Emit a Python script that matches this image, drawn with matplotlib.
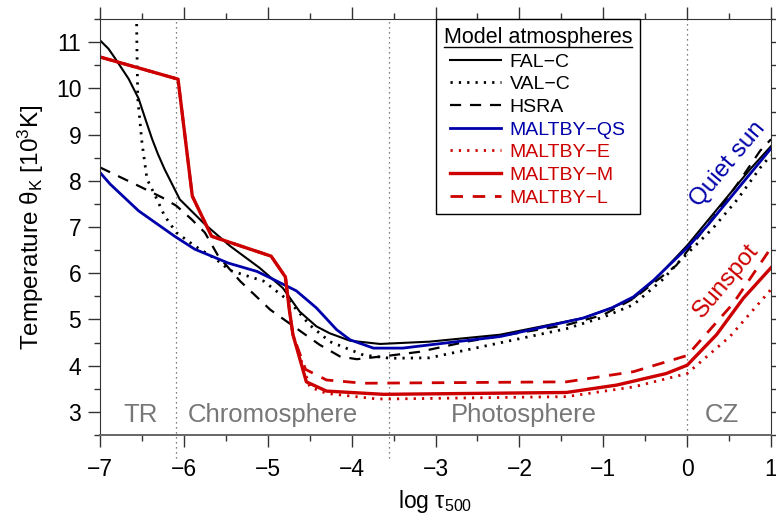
import matplotlib
matplotlib.use("Agg")
import matplotlib.pyplot as plt
from matplotlib.lines import Line2D
from matplotlib.ticker import MultipleLocator

plt.rcParams['font.family'] = ['Liberation Sans', 'DejaVu Sans']
plt.rcParams['mathtext.fontset'] = 'custom'
plt.rcParams['mathtext.rm'] = 'Liberation Sans'
plt.rcParams['mathtext.it'] = 'Liberation Sans:italic'
plt.rcParams['mathtext.bf'] = 'Liberation Sans:bold'

RED = '#cc0000'
BLUE = '#0000aa'

# --- data (log tau_500 vs T in 10^3 K) ---
falc_x = [-7.0, -6.90, -6.82, -6.74, -6.66, -6.54, -6.46, -6.38, -6.31, -6.23, -6.13, -6.05,
          -5.75, -5.45, -5.1, -4.82, -4.62, -4.42, -4.26, -4.02, -3.66, -3.07, -2.23, -1.24,
          -0.9, -0.64, -0.4, -0.25, 0.0, 0.25, 0.5, 0.75, 1.0]
falc_y = [11.04, 10.86, 10.65, 10.43, 10.21, 9.78, 9.34, 8.91, 8.58, 8.25, 7.89, 7.6,
          7.06, 6.59, 6.12, 5.68, 5.17, 4.85, 4.70, 4.54, 4.47, 4.52, 4.67, 5.03,
          5.25, 5.46, 5.83, 6.12, 6.6, 7.15, 7.7, 8.25, 8.75]

valc_x = [-6.57, -6.56, -6.55, -6.5, -6.44, -6.34, -6.23, -6.09, -5.87, -5.63, -5.45, -5.05,
          -4.74, -4.5, -4.26, -3.86, -3.54, -3.07, -2.63, -1.44, -1.0, -0.64, -0.3, -0.09,
          0.31, 0.6, 0.89, 1.0]
valc_y = [12.5, 10.86, 9.78, 8.83, 8.04, 7.67, 7.24, 6.88, 6.59, 6.32, 6.06, 5.83,
          5.39, 4.88, 4.52, 4.23, 4.16, 4.17, 4.34, 4.80, 5.05, 5.32, 5.85, 6.26,
          6.98, 7.6, 8.33, 8.55]

hsra_x = [-7.0, -6.54, -6.26, -6.09, -5.91, -5.75, -5.59, -5.33, -4.97, -4.66, -4.38, -4.14,
          -3.94, -3.54, -3.19, -2.63, -1.44, -1.0, -0.64, -0.13, 0.35, 0.61, 0.87, 1.0]
hsra_y = [8.29, 7.89, 7.64, 7.46, 7.17, 6.88, 6.37, 5.83, 5.21, 4.81, 4.45, 4.2,
          4.14, 4.22, 4.30, 4.52, 4.88, 5.1, 5.45, 6.17, 7.3, 7.96, 8.65, 8.9]

qs_x = [-7.0, -6.88, -6.54, -6.11, -5.87, -5.47, -5.13, -4.97, -4.66, -4.42, -4.18, -4.02,
        -3.74, -3.39, -3.07, -2.23, -1.24, -0.9, -0.64, -0.4, -0.2, 0.0, 0.25, 0.5, 0.75, 1.0]
qs_y = [8.18, 7.93, 7.35, 6.8, 6.52, 6.22, 6.04, 5.9, 5.62, 5.25, 4.78, 4.56,
        4.38, 4.38, 4.45, 4.63, 5.03, 5.25, 5.49, 5.85, 6.2, 6.55, 7.05, 7.6, 8.15, 8.7]

# sunspot models share the upper atmosphere
spot_top_x = [-7.0, -6.07, -5.9, -5.67, -4.96, -4.79, -4.74, -4.70]
spot_top_y = [10.68, 10.2, 7.67, 6.8, 6.37, 5.92, 5.17, 4.67]

maltm_x = [-4.54, -4.30, -3.62, -1.44, -0.84, -0.25, 0.0, 0.35, 0.67, 1.0]
maltm_y = [3.65, 3.45, 3.38, 3.42, 3.58, 3.83, 4.01, 4.67, 5.46, 6.12]

malte_x = [-4.5, -4.3, -3.7, -3.54, -1.44, -0.64, 0.0, 0.51, 1.0]
malte_y = [3.54, 3.40, 3.28, 3.28, 3.33, 3.54, 3.83, 4.63, 5.65]

maltl_x = [-4.55, -4.3, -3.86, -1.44, -0.64, 0.0, 0.55, 1.0]
maltl_y = [3.92, 3.69, 3.62, 3.65, 3.87, 4.22, 5.35, 6.55]

boundaries = [-6.1, -3.55, 0.0]
regions = ['TR', 'Chromosphere', 'Photosphere', 'CZ']
region_x = [-6.52, -4.94, -1.95, 0.41]

fig = plt.figure(figsize=(7.76, 5.16), dpi=100)
ax = fig.add_axes([0.1289, 0.157, 0.8647, 0.806])

# region boundaries (the first two run a bit past the bottom axis)
ax.plot([boundaries[0]] * 2, [2.0, 11.5], color='#555555', lw=0.9, ls=(0, (1, 3)), clip_on=False)
ax.plot([boundaries[1]] * 2, [2.0, 11.5], color='#555555', lw=0.9, ls=(0, (1, 3)), clip_on=False)
ax.plot([boundaries[2]] * 2, [2.5, 11.5], color='#555555', lw=0.9, ls=(0, (1, 3)))

for name, xc in zip(regions, region_x):
    ax.text(xc, 2.94, name, color='#777777', fontsize=18.5, ha='center', va='center')

h_falc, = ax.plot(falc_x, falc_y, color='black', lw=1.5, label='FAL\u2212C')
h_valc, = ax.plot(valc_x, valc_y, color='black', lw=2.0, ls=(0, (0.8, 2.2)), label='VAL\u2212C')
h_hsra, = ax.plot(hsra_x, hsra_y, color='black', lw=1.6, ls=(0, (5, 4)), label='HSRA')
h_qs, = ax.plot(qs_x, qs_y, color=BLUE, lw=2.0, label='MALTBY\u2212QS')
h_e, = ax.plot(spot_top_x + malte_x, spot_top_y + malte_y, color=RED, lw=2.0,
               ls=(0, (0.8, 2.2)), label='MALTBY\u2212E')
h_l, = ax.plot(spot_top_x + maltl_x, spot_top_y + maltl_y, color=RED, lw=2.0,
               ls=(0, (4.5, 3.5)), label='MALTBY\u2212L')
h_m, = ax.plot(spot_top_x + maltm_x, spot_top_y + maltm_y, color=RED, lw=2.4, label='MALTBY\u2212M')

ax.text(0.48, 8.35, 'Quiet sun', color=BLUE, fontsize=17.5, rotation=50,
        ha='center', va='center', rotation_mode='anchor')
ax.text(0.47, 5.83, 'Sunspot', color=RED, fontsize=17.5, rotation=50,
        ha='center', va='center', rotation_mode='anchor')

ax.set_xlim(-7, 1)
ax.set_ylim(2.5, 11.5)
ax.xaxis.set_major_locator(MultipleLocator(1))
ax.xaxis.set_minor_locator(MultipleLocator(0.5))
ax.yaxis.set_major_locator(MultipleLocator(1))
ax.yaxis.set_minor_locator(MultipleLocator(0.5))
ax.tick_params(which='both', direction='out', top=True, right=True, colors='#333333',
               labelcolor='black', labelsize=16.5)
ax.tick_params(which='major', length=8.5, width=1.0)
ax.tick_params(which='minor', length=4.5, width=1.0)
ax.tick_params(axis='x', which='major', pad=8)
ax.tick_params(axis='y', which='major', pad=5)
for side in ['left', 'right', 'top']:
    ax.spines[side].set_color('#333333')
ax.spines['bottom'].set_color('#666666')
ax.spines['bottom'].set_linewidth(1.4)

ax.set_xlabel('log \u03c4$_{500}$', fontsize=16.5, labelpad=5)
ax.set_ylabel('Temperature \u03b8$_{\\mathrm{K}}$ [10$^{3}$K]', fontsize=17.5, labelpad=7)

handles = [h_falc, h_valc, h_hsra, h_qs, h_e, h_m, h_l]
leg = ax.legend(handles=handles, loc='upper left', bbox_to_anchor=(0.5007, 1.0),
                borderaxespad=0, title='Model atmospheres', title_fontsize=15.5,
                fontsize=14, handlelength=2.6, handletextpad=0.45, labelspacing=0.26,
                frameon=True, fancybox=False, edgecolor='black', framealpha=1,
                borderpad=0.4,
                labelcolor=['black', 'black', 'black', BLUE, RED, RED, RED])
leg.get_frame().set_linewidth(1.0)

# underline the legend title
fig.canvas.draw()
tb = leg.get_title().get_window_extent().transformed(fig.transFigure.inverted())
fig.add_artist(Line2D([tb.x0, tb.x1], [tb.y0 + 0.002, tb.y0 + 0.002], color='black', lw=1.0))

fig.savefig('out.png', dpi=100)
